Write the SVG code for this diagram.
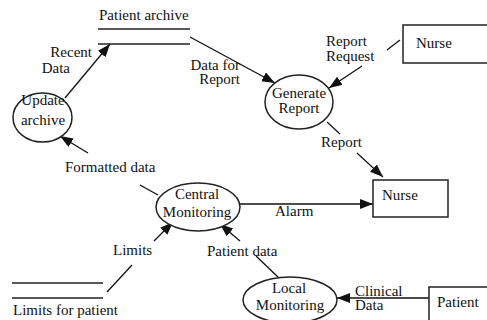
<svg xmlns="http://www.w3.org/2000/svg" width="487" height="320" viewBox="0 0 487 320" font-family="'Liberation Serif', 'Times New Roman', Times, 'DejaVu Serif', serif">
<style>
text{font-family:"Liberation Serif","Times New Roman",Times,"DejaVu Serif",serif;font-size:15px;fill:#111}
.s{fill:none;stroke:#222;stroke-width:1.3}
.n{fill:#fff;stroke:#222;stroke-width:1.5}
.c{fill:none;stroke:#111;stroke-width:1.3}
.m{text-anchor:middle}
</style>
<defs>
<marker id="ah" markerUnits="userSpaceOnUse" markerWidth="14" markerHeight="11" refX="13" refY="5" orient="auto">
<path d="M0,0 L13,5 L0,10 z" fill="#111"/>
</marker>
</defs>
<g id="connectors">
<path class="c" d="M65,98 L110,44" marker-end="url(#ah)"/>
<path class="c" d="M190,37 L275,83" marker-end="url(#ah)"/>
<path class="c" d="M387,50 L400,40 M362,66 L329,88" marker-end="url(#ah)"/>
<path class="c" d="M327,122 L340,134 M357,153 L383,177" marker-end="url(#ah)"/>
<path class="c" d="M240,204 L373,204" marker-end="url(#ah)"/>
<path class="c" d="M158,195 L140,185 M88,153 L60,136" marker-end="url(#ah)"/>
<path class="c" d="M107,292 L132,265 M154,241 L173,222" marker-end="url(#ah)"/>
<path class="c" d="M279,278 L256,256 M240,241 L220,224" marker-end="url(#ah)"/>
<path class="c" d="M429,298 L337,298" marker-end="url(#ah)"/>
<text x="92" y="57" text-anchor="end">Recent</text>
<text x="70" y="73" text-anchor="end">Data</text>
<text x="240" y="70" text-anchor="end">Data for</text>
<text x="240" y="84" text-anchor="end">Report</text>
<text x="326" y="46">Report</text>
<text x="326" y="61">Request</text>
<text x="321" y="147">Report</text>
<text x="275" y="216">Alarm</text>
<text x="65" y="172">Formatted data</text>
<text x="113" y="255">Limits</text>
<text x="207" y="256">Patient data</text>
<text x="355" y="296">Clinical</text>
<text x="355" y="310">Data</text>
</g>
<g id="patient-archive">
<line class="s" x1="98" y1="29" x2="190" y2="29"/>
<line class="s" x1="98" y1="44" x2="190" y2="44"/>
<text x="99" y="20">Patient archive</text>
</g>
<g id="limits-for-patient">
<line class="s" x1="12" y1="283" x2="103" y2="283"/>
<line class="s" x1="12" y1="298" x2="103" y2="298"/>
<text x="13" y="315">Limits for patient</text>
</g>
<g id="update-archive">
<ellipse class="n" cx="42.5" cy="117.5" rx="29.5" ry="24.5"/>
<text class="m" x="43" y="105">Update</text>
<text class="m" x="43" y="125">archive</text>
</g>
<g id="generate-report">
<ellipse class="n" cx="299" cy="102" rx="34" ry="27"/>
<text class="m" x="299" y="98">Generate</text>
<text class="m" x="299" y="113">Report</text>
</g>
<g id="nurse-top">
<rect class="n" x="403" y="25" width="90" height="38"/>
<text x="416" y="48">Nurse</text>
</g>
<g id="nurse-bottom">
<rect class="n" x="373" y="180" width="75" height="37"/>
<text x="382" y="200">Nurse</text>
</g>
<g id="central-monitoring">
<ellipse class="n" cx="198" cy="207" rx="42" ry="24"/>
<text class="m" x="197" y="199">Central</text>
<text class="m" x="197" y="217">Monitoring</text>
</g>
<g id="local-monitoring">
<ellipse class="n" cx="290" cy="300" rx="47" ry="23"/>
<text class="m" x="289" y="293">Local</text>
<text class="m" x="290" y="310">Monitoring</text>
</g>
<g id="patient">
<rect class="n" x="429" y="287" width="70" height="45"/>
<text x="437" y="307">Patient</text>
</g>
</svg>
